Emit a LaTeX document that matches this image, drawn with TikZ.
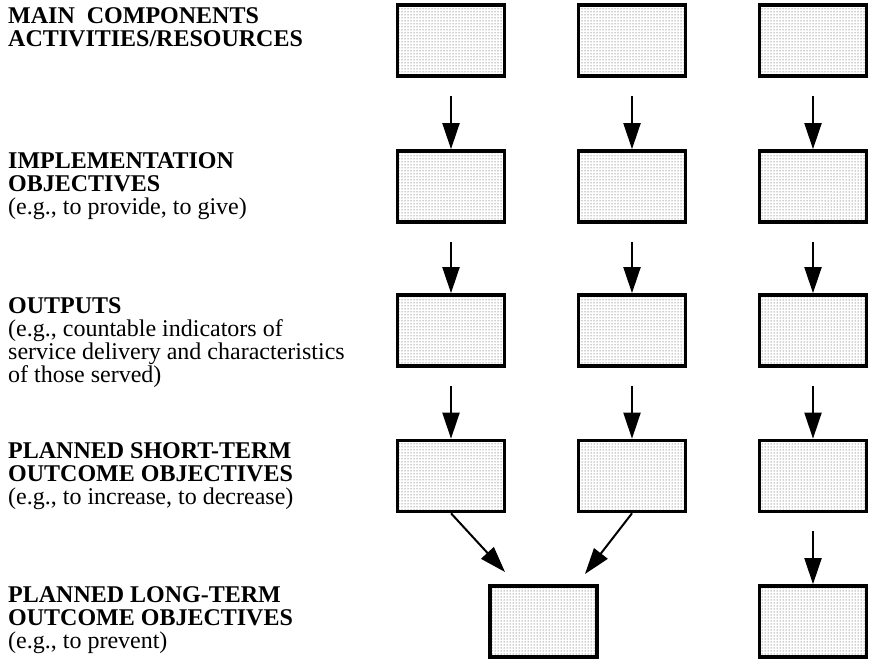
\documentclass[tikz,border=0pt]{standalone}
\usepackage{fontspec}
\setmainfont{Liberation Serif}
\usetikzlibrary{arrows.meta, patterns}

\begin{document}
\begin{tikzpicture}[x=1pt, y=1pt,
  block/.style={draw=black, line width=3.6pt, minimum width=107pt, minimum height=71pt,
                inner sep=0pt, fill=white, pattern=dots, pattern color=black!80},
  label/.style={anchor=north west, inner sep=0pt, align=left,
                font=\fontsize{24}{23}\selectfont},
  flow/.style={-{Triangle[length=26pt, width=17pt]}, line width=2pt}
]
  \useasboundingbox (0,0) rectangle (870,660);

  % row labels
  \node[label] (tmain)  at (8,653) {\textbf{MAIN\ \ COMPONENTS}\\\textbf{ACTIVITIES/RESOURCES}};
  \node[label] (timpl)  at (8,508) {\textbf{IMPLEMENTATION}\\\textbf{OBJECTIVES}\\(e.g., to provide, to give)};
  \node[label] (tout)   at (8,363) {\textbf{OUTPUTS}\\(e.g., countable indicators of\\service delivery and characteristics\\of those served)};
  \node[label] (tshort) at (8,218) {\textbf{PLANNED SHORT-TERM}\\\textbf{OUTCOME OBJECTIVES}\\(e.g., to increase, to decrease)};
  \node[label] (tlong)  at (8,74)  {\textbf{PLANNED LONG-TERM}\\\textbf{OUTCOME OBJECTIVES}\\(e.g., to prevent)};

  % boxes
  \node[block] (a1) at (451,619.5) {};
  \node[block] (a2) at (632,619.5) {};
  \node[block] (a3) at (813,619.5) {};
  \node[block] (i1) at (451,473.5) {};
  \node[block] (i2) at (632,473.5) {};
  \node[block] (i3) at (813,473.5) {};
  \node[block] (o1) at (451,329.5) {};
  \node[block] (o2) at (632,329.5) {};
  \node[block] (o3) at (813,329.5) {};
  \node[block] (s1) at (451,184) {};
  \node[block] (s2) at (632,184) {};
  \node[block] (s3) at (813,184) {};
  \node[block] (l1) at (543.5,38.5) {};
  \node[block] (l3) at (813,38.5) {};

  \coordinate (m1) at (505,88);
  \coordinate (m2) at (585,86);

  % connectors
  \draw[flow, shorten <=18pt] (a1) -- (i1);
  \draw[flow, shorten <=18pt] (a2) -- (i2);
  \draw[flow, shorten <=18pt] (a3) -- (i3);
  \draw[flow, shorten <=18pt] (i1) -- (o1);
  \draw[flow, shorten <=18pt] (i2) -- (o2);
  \draw[flow, shorten <=18pt] (i3) -- (o3);
  \draw[flow, shorten <=18pt] (o1) -- (s1);
  \draw[flow, shorten <=18pt] (o2) -- (s2);
  \draw[flow, shorten <=18pt] (o3) -- (s3);
  \draw[flow, shorten <=18pt] (s3) -- (l3);
  \draw[flow] (s1.south) -- (m1);
  \draw[flow] (s2.south) -- (m2);
\end{tikzpicture}
\end{document}
